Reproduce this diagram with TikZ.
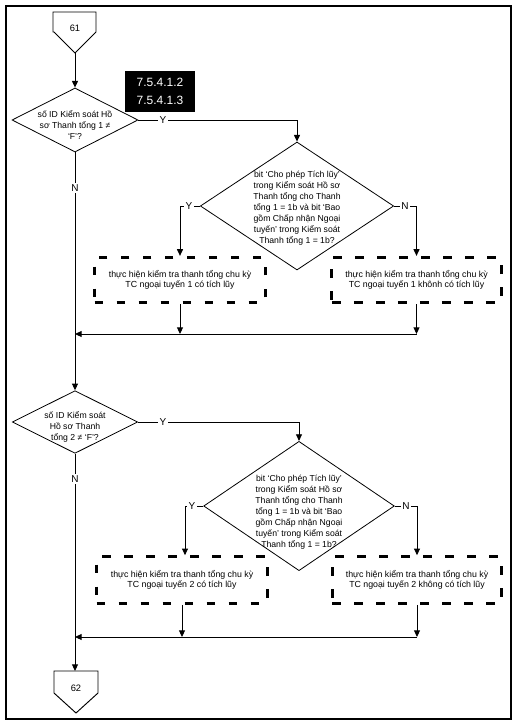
\documentclass[tikz,border=0pt]{standalone}
\usepackage{fontspec}
\setmainfont{Liberation Sans}
\usetikzlibrary{shapes.geometric,arrows.meta,calc}
\begin{document}
\begin{tikzpicture}[x=0.75pt,y=-0.75pt,
  ln/.style={line width=0.7pt},
  arr/.style={ln,-{Triangle[length=5pt,width=4.5pt]}},
  dec/.style={draw,diamond,line width=0.6pt,inner sep=0pt},
  dtxt/.style={font=\fontsize{6.5}{8.25}\selectfont,align=center,inner sep=0pt},
  dbox/.style={draw,line width=2.2pt,dash pattern=on 6.5pt off 10pt,
    minimum width=128pt,minimum height=34pt,inner sep=0pt,
    font=\fontsize{6.6}{7.6}\selectfont,align=center},
  lab/.style={font=\fontsize{7.5}{8}\selectfont,fill=white,inner sep=1pt},
  num/.style={font=\fontsize{7}{8}\selectfont,inner sep=0pt}
]
\useasboundingbox (0,0) rectangle (522,724);
\draw[line width=1pt] (6,6) rectangle (511,719);

% connector 61
\draw[ln] (53,12) -- (96,12) -- (96,32) -- (75,53) -- (54,32) -- (53,32) -- cycle;
\node[num] (c61) at (75,28) {61};
\coordinate (c61tip) at (75,53);

% section label
\node[fill=black,text=white,minimum width=52.5pt,minimum height=31pt,inner sep=0pt,
  align=center,font=\fontsize{9}{13.5}\selectfont] (sec) at (160,91.5) {7.5.4.1.2\\7.5.4.1.3};

% decision 1
\node[dec,minimum width=94.5pt,minimum height=48pt] (d1) at (75,120) {};
\node[dtxt] (t1) at (75,125) {số ID Kiểm soát Hồ\\sơ Thanh tổng 1 ≠\\‘F’?};

% decision 2
\node[dec,minimum width=145pt,minimum height=96pt] (d2) at (297,206) {};
\node[dtxt] (t2) at (297,208) {bit ‘Cho phép Tích lũy’\\trong Kiểm soát Hồ sơ\\Thanh tổng cho Thanh\\tổng 1 = 1b và bit ‘Bao\\gồm Chấp nhận Ngoại\\tuyến’ trong Kiểm soát\\Thanh tổng 1 = 1b?};

% boxes 1,2
\node[dbox] (b1) at (180,280) {thực hiện kiểm tra thanh tổng chu kỳ\\TC ngoại tuyến 1 có tích lũy};
\node[dbox,minimum width=127pt] (b2) at (416.5,280) {thực hiện kiểm tra thanh tổng chu kỳ\\TC ngoại tuyến 1 khônh có tích lũy};

% decision 3
\node[dec,minimum width=94pt,minimum height=47pt] (d3) at (75,422) {};
\node[dtxt] (t3) at (75,427) {số ID Kiểm soát\\Hồ sơ Thanh\\tổng 2 ≠ ‘F’?};

% decision 4
\node[dec,minimum width=143pt,minimum height=97pt] (d4) at (299,506) {};
\node[dtxt] (t4) at (299,512) {bit ‘Cho phép Tích lũy’\\trong Kiểm soát Hồ sơ\\Thanh tổng cho Thanh\\tổng 1 = 1b và bit ‘Bao\\gồm Chấp nhận Ngoại\\tuyến’ trong Kiểm soát\\Thanh tổng 1 = 1b?};

% boxes 3,4
\node[dbox,minimum height=35pt] (b3) at (182,580) {thực hiện kiểm tra thanh tổng chu kỳ\\TC ngoại tuyến 2 có tích lũy};
\node[dbox,minimum width=127pt,minimum height=35pt] (b4) at (417,580) {thực hiện kiểm tra thanh tổng chu kỳ\\TC ngoại tuyến 2 không có tích lũy};

% connector 62
\draw[ln] (54,671) -- (98,671) -- (98,693) -- (76,713) -- (54,693) -- cycle;
\node[num] (c62) at (76,688) {62};
\coordinate (c62top) at (75,671);

% merge points
\coordinate (m1) at (75,334);
\coordinate (m2) at (75,637);

% flow, first part
\draw[arr] (c61tip) -- (d1.north);
\draw[arr] (d1.east) -- (d2.north |- d1.east) -- (d2.north);
\draw[arr] (d2.west) -- (b1.north |- d2.west) -- (b1.north);
\draw[arr] (d2.east) -- (b2.north |- d2.east) -- (b2.north);
\draw[arr] (b1.south) -- (b1.south |- m1);
\draw[arr] (b2.south) -- (b2.south |- m1);
\draw[arr] (b2.south |- m1) -- (m1);
\draw[arr] (d1.south) -- (d3.north);

% flow, second part
\draw[arr] (d3.east) -- (d4.north |- d3.east) -- (d4.north);
\draw[arr] (d4.west) -- ($(b3.north |- d4.west)+(3,0)$) -- ($(b3.north)+(3,0)$);
\draw[arr] (d4.east) -- (b4.north |- d4.east) -- (b4.north);
\draw[arr] (b3.south) -- (b3.south |- m2);
\draw[arr] (b4.south) -- (b4.south |- m2);
\draw[arr] (b4.south |- m2) -- (m2);
\draw[arr] (d3.south) -- (c62top);

% labels
\node[lab] (y1) at (163,120) {Y};
\node[lab] (n1) at (75,188) {N};
\node[lab] (y2) at (189,206) {Y};
\node[lab] (n2) at (405,206) {N};
\node[lab] (y3) at (163,422) {Y};
\node[lab] (n3) at (75,479) {N};
\node[lab] (y4) at (192,506) {Y};
\node[lab] (n4) at (406,506) {N};
\end{tikzpicture}
\end{document}
